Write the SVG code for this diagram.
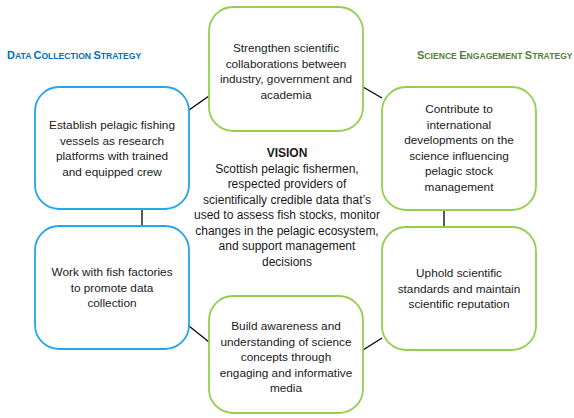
<svg xmlns="http://www.w3.org/2000/svg" width="574" height="418" viewBox="0 0 574 418">
  <style>
    .bg { fill: #ffffff; }
    .box { fill: #ffffff; stroke-width: 1.8; }
    .blue { stroke: #22A7EA; }
    .green { stroke: #92D050; }
    .link { stroke: #000000; stroke-width: 1.3; fill: none; }
    .txt { font-family: "Liberation Sans", Arial, sans-serif; font-size: 11.8px; fill: #1a1a1a; text-anchor: middle; }
    .vis { font-family: "Liberation Sans", Arial, sans-serif; font-size: 12px; fill: #1a1a1a; text-anchor: middle; }
    .vis-title { font-weight: bold; }
    .head { font-family: "Liberation Sans", Arial, sans-serif; font-weight: bold; }
    .big { font-size: 11px; }
    .sm { font-size: 8.6px; }
  </style>

  <rect class="bg" x="0" y="0" width="574" height="418"/>

  <!-- strategy headings (small caps) -->
  <g id="heading-data">
    <text class="head" x="7" y="59" fill="#0070C0"><tspan class="big">D</tspan><tspan class="sm">ATA </tspan><tspan class="big">C</tspan><tspan class="sm">OLLECTION </tspan><tspan class="big">S</tspan><tspan class="sm">TRATEGY</tspan></text>
  </g>
  <g id="heading-science">
    <text class="head" x="417" y="59" fill="#538135"><tspan class="big">S</tspan><tspan class="sm">CIENCE </tspan><tspan class="big">E</tspan><tspan class="sm">NGAGEMENT </tspan><tspan class="big">S</tspan><tspan class="sm">TRATEGY</tspan></text>
  </g>

  <!-- connectors between the ring of boxes -->
  <g id="connectors">
    <line class="link" x1="189" y1="110" x2="209" y2="96"/>
    <line class="link" x1="363" y1="87" x2="382" y2="98"/>
    <line class="link" x1="142" y1="209" x2="142" y2="226"/>
    <line class="link" x1="444" y1="210" x2="444" y2="227"/>
    <line class="link" x1="189" y1="326" x2="209" y2="342"/>
    <line class="link" x1="363" y1="350" x2="382" y2="338"/>
  </g>

  <g id="node-collaborations">
    <rect class="box green" x="209" y="7" width="154" height="124" rx="24"/>
    <text class="txt" x="286" y="52">Strengthen scientific</text>
    <text class="txt" x="286" y="67.5">collaborations between</text>
    <text class="txt" x="286" y="83">industry, government and</text>
    <text class="txt" x="286" y="98.5">academia</text>
  </g>

  <g id="node-vessels">
    <rect class="box blue" x="35" y="87" width="154" height="122" rx="24"/>
    <text class="txt" x="112" y="129">Establish pelagic fishing</text>
    <text class="txt" x="112" y="144.5">vessels as research</text>
    <text class="txt" x="112" y="160">platforms with trained</text>
    <text class="txt" x="112" y="175.5">and equipped crew</text>
  </g>

  <g id="node-factories">
    <rect class="box blue" x="35" y="226" width="154" height="123" rx="24"/>
    <text class="txt" x="112" y="276">Work with fish factories</text>
    <text class="txt" x="112" y="291.5">to promote data</text>
    <text class="txt" x="112" y="307">collection</text>
  </g>

  <g id="node-international">
    <rect class="box green" x="382" y="87" width="154" height="123" rx="24"/>
    <text class="txt" x="459" y="113">Contribute to</text>
    <text class="txt" x="459" y="128.5">international</text>
    <text class="txt" x="459" y="144">developments on the</text>
    <text class="txt" x="459" y="159.5">science influencing</text>
    <text class="txt" x="459" y="175">pelagic stock</text>
    <text class="txt" x="459" y="190.5">management</text>
  </g>

  <g id="node-standards">
    <rect class="box green" x="382" y="227" width="154" height="123" rx="24"/>
    <text class="txt" x="459" y="277">Uphold scientific</text>
    <text class="txt" x="459" y="292.5">standards and maintain</text>
    <text class="txt" x="459" y="308">scientific reputation</text>
  </g>

  <g id="node-awareness">
    <rect class="box green" x="209" y="296" width="154" height="117" rx="24"/>
    <text class="txt" x="286" y="330">Build awareness and</text>
    <text class="txt" x="286" y="345.5">understanding of science</text>
    <text class="txt" x="286" y="361">concepts through</text>
    <text class="txt" x="286" y="376.5">engaging and informative</text>
    <text class="txt" x="286" y="392">media</text>
  </g>

  <g id="node-vision">
    <text class="vis vis-title" x="287" y="157">VISION</text>
    <text class="vis" x="287" y="172.5">Scottish pelagic fishermen,</text>
    <text class="vis" x="287" y="188">respected providers of</text>
    <text class="vis" x="287" y="203.5">scientifically credible data that’s</text>
    <text class="vis" x="287" y="219">used to assess fish stocks, monitor</text>
    <text class="vis" x="287" y="234.5">changes in the pelagic ecosystem,</text>
    <text class="vis" x="287" y="250">and support management</text>
    <text class="vis" x="287" y="265.5">decisions</text>
  </g>
</svg>
